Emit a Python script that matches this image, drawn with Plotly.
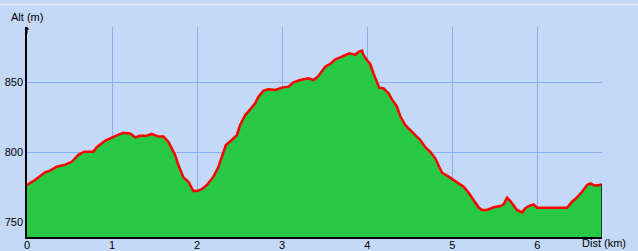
import plotly.graph_objects as go

dist_km = [0.000, 0.094, 0.212, 0.271, 0.349, 0.447, 0.526, 0.604, 0.674, 0.780,
           0.820, 0.918, 1.035, 1.133, 1.212, 1.271, 1.329, 1.408, 1.467, 1.545,
           1.604, 1.662, 1.702, 1.741, 1.780, 1.839, 1.898, 1.956, 1.996, 2.055,
           2.114, 2.192, 2.251, 2.291, 2.338, 2.408, 2.467, 2.506, 2.565, 2.624,
           2.682, 2.721, 2.780, 2.839, 2.918, 2.996, 3.074, 3.133, 3.212, 3.309,
           3.368, 3.427, 3.467, 3.506, 3.565, 3.624, 3.682, 3.741, 3.788, 3.859,
           3.898, 3.938, 3.956, 3.996, 4.035, 4.074, 4.114, 4.141, 4.192, 4.251,
           4.291, 4.349, 4.388, 4.447, 4.506, 4.565, 4.624, 4.682, 4.741, 4.800,
           4.839, 4.879, 4.957, 5.015, 5.074, 5.133, 5.192, 5.251, 5.309, 5.349,
           5.408, 5.486, 5.565, 5.604, 5.644, 5.682, 5.721, 5.761, 5.820, 5.859,
           5.898, 5.956, 5.996, 6.231, 6.349, 6.408, 6.467, 6.526, 6.585, 6.624,
           6.682, 6.761]
alt_m = [776.4, 780.0, 785.5, 786.7, 789.5, 791.0, 793.0, 798.0, 800.2, 800.2,
         803.4, 808.0, 811.4, 813.8, 813.3, 810.5, 811.6, 811.6, 812.9, 811.0,
         811.0, 807.4, 802.6, 797.9, 790.7, 781.9, 778.8, 772.1, 772.1, 773.4,
         776.4, 782.4, 789.5, 796.6, 805.0, 808.6, 812.1, 819.3, 826.4, 830.5,
         834.8, 839.5, 843.8, 844.8, 844.3, 846.0, 846.7, 849.8, 851.4, 852.6,
         851.4, 854.3, 858.1, 861.0, 862.9, 866.2, 867.6, 869.3, 870.5, 869.5,
         871.6, 872.4, 869.3, 865.7, 862.9, 856.2, 850.2, 846.0, 845.5, 841.9,
         837.6, 832.4, 825.7, 819.3, 815.7, 812.1, 808.6, 803.4, 800.2, 795.5,
         790.7, 785.2, 782.4, 780.0, 777.1, 775.2, 770.9, 765.7, 760.5, 758.6,
         758.6, 760.5, 761.4, 762.6, 767.4, 765.0, 762.1, 758.6, 756.9, 759.8,
         761.4, 762.6, 760.2, 760.2, 760.2, 764.5, 767.6, 771.6, 776.4, 777.6,
         775.9, 776.9]

x_ticks = [0, 1, 2, 3, 4, 5, 6]
y_ticks = [750, 800, 850]
x_range = [0, 6.76]
y_range = [739.3, 889.3]

BG = "#C3D9F7"
GRID = "#8AAEF3"
FONT = "Liberation Sans"

fig = go.Figure()
fig.add_trace(go.Scatter(
    x=dist_km, y=alt_m, mode="lines", fill="tozeroy",
    fillcolor="#27C844", line=dict(color="#FF0000", width=2.5),
    hoverinfo="skip", showlegend=False))

fig.update_layout(
    width=638, height=251,
    margin=dict(l=27, r=36, t=27, b=14, autoexpand=False),
    paper_bgcolor=BG, plot_bgcolor=BG,
    font=dict(family=FONT, size=11, color="black"),
    xaxis=dict(range=x_range, tickvals=x_ticks, ticktext=[str(v) for v in x_ticks],
               showgrid=True, gridcolor=GRID, gridwidth=1, zeroline=False,
               showline=True, linecolor="black", linewidth=1.5, ticks="",
               tickfont=dict(size=11), ticklabelstandoff=-3,
               automargin=False, fixedrange=True),
    yaxis=dict(range=y_range, tickvals=y_ticks, ticktext=[str(v) for v in y_ticks],
               showgrid=True, gridcolor=GRID, gridwidth=1, zeroline=False,
               showline=True, linecolor="black", linewidth=1.5, ticks="",
               tickfont=dict(size=11),
               automargin=False, fixedrange=True),
    annotations=[
        dict(text="Alt (m)", xref="paper", yref="paper", x=0, y=1, yshift=2,
             xanchor="center", yanchor="bottom", showarrow=False),
        dict(text="Dist (km)", xref="paper", yref="paper", x=1, y=0, xshift=-22,
             yshift=2, xanchor="left", yanchor="top", showarrow=False),
        dict(x=0, y=1, xref="paper", yref="paper", ax=0, ay=8, showarrow=True,
             arrowhead=1, arrowsize=0.8, arrowwidth=1, arrowcolor="black", text=""),
    ],
    shapes=[
        dict(type="line", xref="x", yref="y", x0=dist_km[-1], x1=dist_km[-1],
             y0=y_range[0], y1=alt_m[-1], line=dict(color="black", width=1.5)),
        dict(type="line", xref="paper", yref="paper", x0=-0.1, x1=1.2,
             y0=1.107, y1=1.107, line=dict(color="#E4E8EF", width=1.5)),
    ],
)

fig.write_html("out.html")
